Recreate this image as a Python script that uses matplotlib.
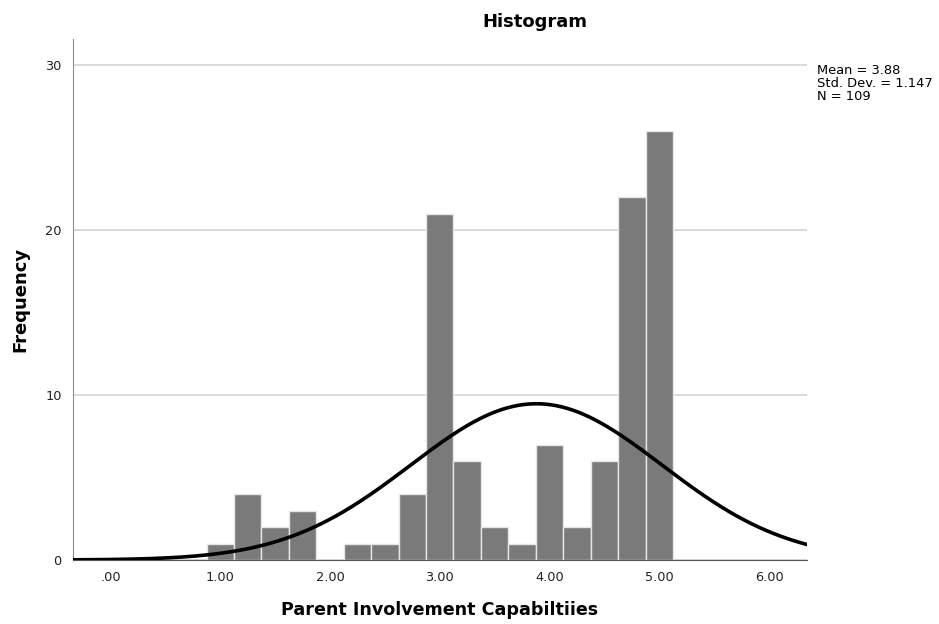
"""
SPSS-style histogram: Parent Involvement Capabilities
"""
import numpy as np
import matplotlib
matplotlib.use('Agg')
import matplotlib.pyplot as plt

# bin centres (bin width 0.25) and counts
bin_centers = [1.00, 1.25, 1.50, 1.75, 2.00, 2.25, 2.50, 2.75, 3.00,
               3.25, 3.50, 3.75, 4.00, 4.25, 4.50, 4.75, 5.00]
counts = [1, 4, 2, 3, 0, 1, 1, 4, 21, 6, 2, 1, 7, 2, 6, 22, 26]
bin_width = 0.25

mean = 3.88
std_dev = 1.147
n_total = 109

x_ticks = [0, 1, 2, 3, 4, 5, 6]
x_tick_labels = ['.00', '1.00', '2.00', '3.00', '4.00', '5.00', '6.00']
y_ticks = [0, 10, 20, 30]

plt.rcParams['font.family'] = ['DejaVu Sans']

fig = plt.figure(figsize=(9.39, 6.24), dpi=100)
ax = fig.add_axes([72.7 / 939, 1 - 560 / 624, (806.7 - 72.7) / 939, (560 - 39) / 624])

ax.bar(bin_centers, counts, width=bin_width, color='#7a7a7a',
       edgecolor='#e6e6e6', linewidth=1.0, zorder=2)

xmin, xmax = -0.344, 6.343
xs = np.linspace(xmin, xmax, 400)
pdf = np.exp(-0.5 * ((xs - mean) / std_dev) ** 2) / (std_dev * np.sqrt(2 * np.pi))
ax.plot(xs, pdf * n_total * bin_width, color='black', lw=2.6, zorder=3)

ax.set_xlim(xmin, xmax)
ax.set_ylim(0, 31.6)
ax.set_xticks(x_ticks)
ax.set_xticklabels(x_tick_labels)
ax.set_yticks(y_ticks)
ax.tick_params(length=0, labelsize=9.3, colors='#222222', pad=8)
ax.yaxis.grid(True, color='#d3d3d3', lw=1.2, zorder=0)
ax.set_axisbelow(True)

for side in ('top', 'right'):
    ax.spines[side].set_visible(False)
ax.spines['left'].set_color('#8c8c8c')
ax.spines['bottom'].set_color('#555555')

ax.set_xlabel('Parent Involvement Capabiltiies', fontsize=12.6, fontweight='bold')
ax.xaxis.set_label_coords(0.5, -(610 - 560) / (560 - 39), transform=ax.transAxes)
ax.xaxis.label.set_va('center')
ax.set_ylabel('Frequency', fontsize=13, fontweight='bold')
ax.yaxis.set_label_coords(-(72.7 - 20) / (806.7 - 72.7), 0.5, transform=ax.transAxes)
ax.yaxis.label.set_va('center')

fig.text(535 / 939, 1 - 22 / 624, 'Histogram', ha='center', va='center',
         fontsize=13, fontweight='bold')
fig.text(817 / 939, 1 - 64 / 624,
         'Mean = %.2f\nStd. Dev. = %.3f\nN = %d' % (mean, std_dev, n_total),
         ha='left', va='top', fontsize=9.4, linespacing=1.0)

fig.savefig('out.png', dpi=100)
